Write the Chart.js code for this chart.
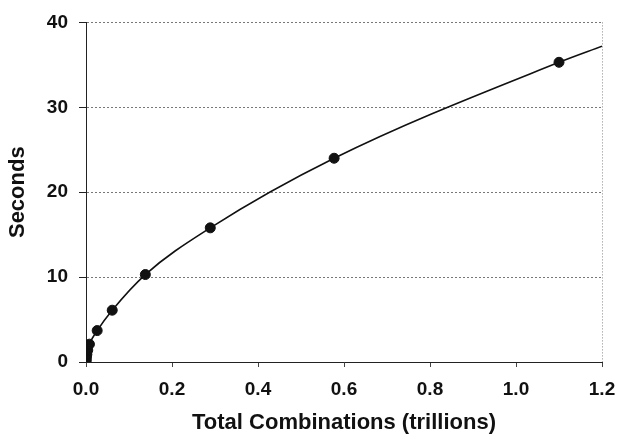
<!DOCTYPE html>
<html>
<head>
<meta charset="utf-8">
<script src="https://cdn.jsdelivr.net/npm/chart.js@4"></script>
<style>
    html, body { margin: 0; padding: 0; background: #fff; }
    #wrap { width: 617px; height: 436px; }
</style>
</head>
<body>
<div id="wrap"><canvas id="chart" width="617" height="436"></canvas></div>
<script>
    'use strict';

    // total combinations (trillions) and run time (seconds)
    var combinations = [0.0002, 0.0005, 0.001, 0.002, 0.004, 0.008, 0.026, 0.061, 0.138, 0.289, 0.577, 1.10];
    var seconds = [0.1, 0.3, 0.6, 0.9, 1.4, 2.1, 3.7, 6.1, 10.3, 15.8, 24.0, 35.3];

    // where the fitted curve leaves the plot on the right
    var curveEnd = { x: 1.2, y: 37.2 };

    var xTicks = [0, 0.2, 0.4, 0.6, 0.8, 1.0, 1.2];
    var yTicks = [0, 10, 20, 30, 40];

    var fontFamily = '"Liberation Sans", Arial, sans-serif';

    var points = combinations.map((c, i) => ({ x: c, y: seconds[i] }));
    var curve = points.concat([curveEnd]);

    var chart = new Chart(document.getElementById('chart'), {
        type: 'scatter',
        data: {
            datasets: [
                {
                    label: 'Measured',
                    data: points,
                    showLine: false,
                    pointRadius: 5,
                    pointBackgroundColor: '#111',
                    pointBorderColor: '#111',
                    pointBorderWidth: 1,
                    order: 0
                },
                {
                    label: 'Fit',
                    data: curve,
                    showLine: true,
                    pointRadius: 0,
                    borderColor: '#111',
                    borderWidth: 1.6,
                    cubicInterpolationMode: 'monotone',
                    order: 1
                }
            ]
        },
        options: {
            responsive: false,
            animation: false,
            layout: { padding: { left: 0, top: 19, right: 15, bottom: 0 } },
            plugins: {
                legend: { display: false },
                tooltip: { enabled: false }
            },
            scales: {
                x: {
                    type: 'linear',
                    min: xTicks[0],
                    max: xTicks[xTicks.length - 1],
                    afterBuildTicks: scale => {
                        scale.ticks = xTicks.map(v => ({ value: v }));
                    },
                    afterFit: scale => {
                        scale.height = 74;
                        scale.paddingLeft = 0;
                        scale.paddingRight = 0;
                    },
                    ticks: {
                        padding: 11,
                        color: '#111',
                        font: { family: fontFamily, size: 19, weight: 'bold' },
                        callback: v => Number(v).toFixed(1)
                    },
                    grid: {
                        drawOnChartArea: true,
                        color: ctx => (ctx.tick && Math.abs(ctx.tick.value - 1.2) < 1e-6) ? '#888' : 'rgba(0,0,0,0)',
                        tickColor: '#444',
                        tickLength: 5,
                        lineWidth: 1
                    },
                    border: { display: true, color: '#222', width: 1, dash: [1, 2] },
                    title: {
                        display: true,
                        text: 'Total Combinations (trillions)',
                        color: '#111',
                        padding: { top: 0, bottom: 0 },
                        font: { family: fontFamily, size: 22, weight: 'bold' }
                    }
                },
                y: {
                    type: 'linear',
                    min: yTicks[0],
                    max: yTicks[yTicks.length - 1],
                    afterBuildTicks: scale => {
                        scale.ticks = yTicks.map(v => ({ value: v }));
                    },
                    afterFit: scale => { scale.width = 86; },
                    ticks: {
                        padding: 11,
                        color: '#111',
                        font: { family: fontFamily, size: 19, weight: 'bold' }
                    },
                    grid: {
                        color: '#777',
                        tickColor: '#222',
                        tickLength: 7,
                        lineWidth: 1
                    },
                    border: { display: true, color: '#222', width: 1, dash: [2, 2] },
                    title: {
                        display: true,
                        text: 'Seconds',
                        color: '#111',
                        padding: { top: 5, bottom: 0 },
                        font: { family: fontFamily, size: 22, weight: 'bold' }
                    }
                }
            }
        }
    });
</script>
</body>
</html>
